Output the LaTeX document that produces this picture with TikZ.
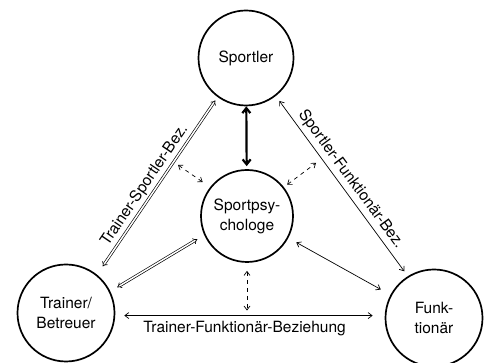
\documentclass[tikz,border=0pt]{standalone}
\usepackage{fontspec}
\setmainfont{TeX Gyre Heros}
\usetikzlibrary{arrows.meta}

\begin{document}
\begin{tikzpicture}[x=1pt, y=1pt,
    every node/.style={font=\fontsize{15.5}{20}\selectfont},
    person/.style={draw, circle, line width=1.7pt, align=center, inner sep=0pt},
    rel/.style={line width=0.7pt, {Straight Barb[length=4pt,width=6pt]}-{Straight Barb[length=4pt,width=6pt]}},
    dblrel/.style={double, double distance=1.5pt, line width=0.65pt, {Implies}-{Implies}},
    dashrel/.style={rel, dash pattern=on 4pt off 4pt}]
    \useasboundingbox (0,0) rectangle (490,363);

    \node[person, minimum size=95] (sportler) at (246, 305) {Sportler};
    \node[person, minimum size=92] (psych) at (247, 147) {Sportpsy-\\chologe};
    \node[person, minimum size=97] (trainer) at (66, 50) {Trainer/\\Betreuer};
    \node[person, minimum size=97] (funk) at (434, 45) {Funk-\\tionär};

    \coordinate (tsmark) at (178, 198);
    \coordinate (sfmark) at (316, 200);

    % sportler-psych
    \draw[line width=2.2pt, {Straight Barb[length=5pt,width=8pt]}-{Straight Barb[length=5pt,width=8pt]}, shorten >=3pt] (sportler) -- (psych);

    % trainer-sportler
    \draw[dblrel, shorten <=10pt, shorten >=4pt] (trainer.51) -- (sportler.234)
        node[sloped, above, pos=0.47, inner sep=3pt] {Trainer-Sportler-Bez.};

    % sportler-funk
    \draw[rel, shorten <=6pt, shorten >=6pt] (sportler.-52) -- (funk.122)
        node[sloped, above, pos=0.5, inner sep=3.5pt] {Sportler-Funktionär-Bez.};

    % trainer-psych
    \draw[dblrel, shorten <=8pt, shorten >=8pt] (trainer.26) -- (psych.204);

    % psych-funk
    \draw[rel, shorten <=9pt, shorten >=11pt] (psych.-28) -- (funk.152);

    % trainer-funk
    \draw[rel, shorten <=9pt, shorten >=12pt] (trainer.-3) -- (trainer.-3 -| funk.west)
        node[below, pos=0.48, inner sep=5pt] {Trainer-Funktionär-Beziehung};

    % psych-relations
    \draw[dashrel, shorten <=8pt, shorten >=5pt] (psych.south) -- (psych.south |- trainer.-3);
    \draw[dashrel, shorten <=9pt] (psych.142) -- (tsmark);
    \draw[dashrel, shorten <=4pt] (psych.38) -- (sfmark);
\end{tikzpicture}
\end{document}
